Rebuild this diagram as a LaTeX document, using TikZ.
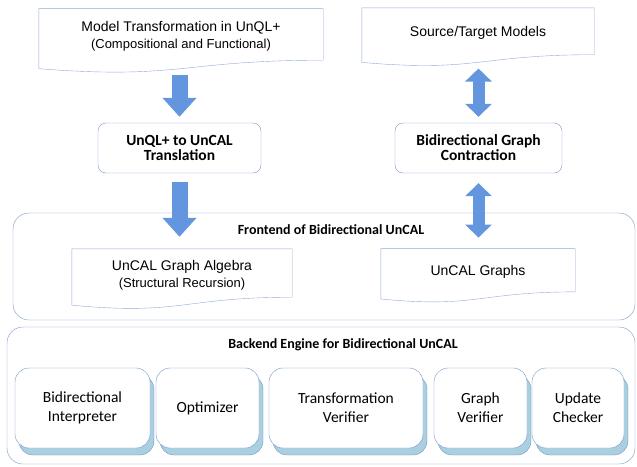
\documentclass[tikz,border=0pt]{standalone}
\usepackage{fontspec}
\setmainfont{Carlito}
\newfontfamily\docfont{Liberation Sans}
\usetikzlibrary{positioning, calc, arrows.meta, shadows}
\definecolor{lineBlue}{HTML}{7497C6}
\definecolor{docLine}{HTML}{8FAAD2}
\definecolor{arrowBlue}{HTML}{6396DF}
\definecolor{shadowBlue}{HTML}{A9CFE1}
\tikzset{
    DocBox/.style = {
        inner sep=0pt, align=center, minimum width=#1,
        font=\docfont\fontsize{14}{17}\selectfont
    },
    TitleBox/.style = {
        draw=lineBlue, rounded corners=8pt, minimum width=#1,
        minimum height=50pt, align=center,
        font=\bfseries\fontsize{15.5}{15}\selectfont
    },
    Frame/.style = {
        draw=lineBlue, rounded corners=16pt, minimum width=#1
    },
    FrameTitle/.style = {
        inner sep=0pt, font=\bfseries\fontsize{14}{16}\selectfont
    },
    EngineBox/.style = {
        draw=lineBlue, fill=white, rounded corners=14pt,
        minimum width=#1, minimum height=80pt, align=center,
        font=\fontsize{15.5}{19}\selectfont,
        copy shadow={shadow xshift=4pt, shadow yshift=-7pt,
            fill=shadowBlue, draw=lineBlue}
    },
    DownArrow/.style = {
        line width=16pt, color=arrowBlue,
        -{Triangle[width=33pt, length=19pt]}
    },
    BothArrow/.style = {
        line width=12pt, color=arrowBlue,
        {Triangle[width=26pt, length=13pt]}-{Triangle[width=26pt, length=13pt]}
    }
}
\newcommand\DocOutline[1]{%
    \draw[docLine] let \p1=(#1.north west), \p2=(#1.south east) in
        (\p1) -- (\x2,\y1) -- (\x2,{\y2+0.076*(\y1-\y2)})
        .. controls ({(\x1+\x2)/2},{\y2+0.076*(\y1-\y2)})
        and ({(\x1+\x2)/2},{\y2-0.275*(\y1-\y2)}) .. (\x1,{\y2-0.076*(\y1-\y2)})
        -- cycle;}

\begin{document}
\begin{tikzpicture}[x=1pt, y=-1pt]
    \useasboundingbox (0,0) rectangle (637,466);
    \node[Frame=622pt, minimum height=107pt] (front) at (324,266.5) {};
    \node[FrameTitle] (front title) at (331,230) {Frontend of Bidirectional UnCAL};
    \node[Frame=628pt, minimum height=137pt] (back) at (321,395.5) {};
    \node[FrameTitle] (back title) at (343,345) {Backend Engine for Bidirectional UnCAL};

    \node[DocBox=284pt, minimum height=55.5pt] (model) at (181,36.5)
        {Model Transformation in UnQL+\\{\fontsize{13}{15}\selectfont (Compositional and Functional)}};
    \node[DocBox=232pt, minimum height=50.3pt] (source) at (478,33.2) {Source/Target Models};
    \node[DocBox=220pt, minimum height=52pt] (algebra) at (182,275)
        {UnCAL Graph Algebra\\{\fontsize{13}{15}\selectfont (Structural Recursion)}};
    \node[DocBox=194pt, minimum height=46.5pt] (graphs) at (478,272) {UnCAL Graphs};
    \DocOutline{model}
    \DocOutline{source}
    \DocOutline{algebra}
    \DocOutline{graphs}

    \node[TitleBox=163pt] (unql) at (179.5,148) {UnQL+ to UnCAL\\Translation};
    \node[TitleBox=167pt] (contract) at (478.5,148) {Bidirectional Graph\\Contraction};

    \node[EngineBox=135pt] (interp) at (82.5,408) {Bidirectional\\Interpreter};
    \node[EngineBox=103pt] (optim) at (207.5,408) {Optimizer};
    \node[EngineBox=154pt] (transf) at (346,408) {Transformation\\Verifier};
    \node[EngineBox=93pt] (gverif) at (480.5,408) {Graph\\Verifier};
    \node[EngineBox=92pt] (update) at (578,408) {Update\\Checker};

    \draw[DownArrow, shorten <=11pt, shorten >=6pt] (model.south -| unql.north) to (unql.north);
    \draw[DownArrow, shorten <=9pt, shorten >=12pt] (unql.south) to (unql.south |- algebra.north);
    \draw[BothArrow, shorten <=10pt, shorten >=6pt] (source.south -| contract.north) to (contract.north);
    \draw[BothArrow, shorten <=10pt, shorten >=11pt] (contract.south) to (contract.south |- graphs.north);
\end{tikzpicture}
\end{document}
